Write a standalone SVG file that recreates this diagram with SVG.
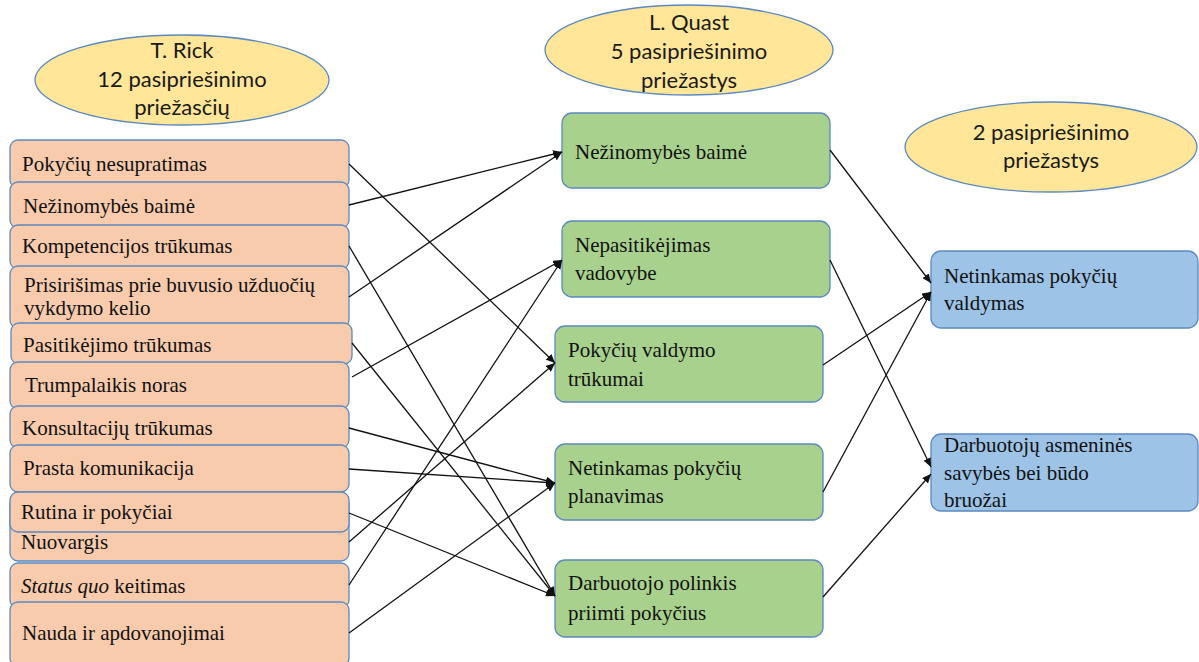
<svg xmlns="http://www.w3.org/2000/svg" width="1199" height="662" viewBox="0 0 1199 662">
<style>
.ell{fill:#FFE699;stroke:#5B89C0;stroke-width:1.3}
.et{font-family:Lato,"Liberation Sans",sans-serif;font-size:22px;fill:#1a1a1a;text-anchor:middle}
.lb{fill:#F8CBAD;stroke:#5B89C0;stroke-width:1.3}
.gb{fill:#A9D18E;stroke:#5B89C0;stroke-width:1.3}
.bb{fill:#9DC3E6;stroke:#5B89C0;stroke-width:1.3}
.t{font-family:"Liberation Serif","Times New Roman",serif;font-size:21px;fill:#111}
.c line{stroke:#111;stroke-width:1.3;marker-end:url(#ah)}
</style>
<defs>
<marker id="ah" markerUnits="userSpaceOnUse" markerWidth="10" markerHeight="8" refX="9" refY="4" orient="auto">
<path d="M0,0 L9,4 L0,8 Z" fill="#111"/>
</marker>
</defs>
<rect width="1199" height="662" fill="#fff"/>

<g id="e-rick"><ellipse class="ell" cx="182" cy="80" rx="147" ry="45"/>
<text class="et" x="182" y="58">T. Rick</text><text class="et" x="182" y="87">12 pasipriešinimo</text><text class="et" x="182" y="115">priežasčių</text></g>
<g id="e-quast"><ellipse class="ell" cx="689" cy="50" rx="144" ry="45"/>
<text class="et" x="689" y="30">L. Quast</text><text class="et" x="689" y="59">5 pasipriešinimo</text><text class="et" x="689" y="88">priežastys</text></g>
<g id="e-two"><ellipse class="ell" cx="1051" cy="147" rx="146" ry="45"/>
<text class="et" x="1051" y="140">2 pasipriešinimo</text><text class="et" x="1051" y="168">priežastys</text></g>

<g id="l1"><rect class="lb" x="10" y="140" width="339" height="48" rx="8"/><text class="t" x="22" y="171">Pokyčių nesupratimas</text></g>
<g id="l2"><rect class="lb" x="10" y="182" width="339" height="46" rx="8"/><text class="t" x="23" y="213">Nežinomybės baimė</text></g>
<g id="l3"><rect class="lb" x="10" y="225" width="339" height="44" rx="8"/><text class="t" x="22" y="253">Kompetencijos trūkumas</text></g>
<g id="l4"><rect class="lb" x="10" y="266" width="339" height="62" rx="8"/><text class="t" x="24" y="292">Prisirišimas prie buvusio užduočių</text><text class="t" x="24" y="315">vykdymo kelio</text></g>
<g id="l5"><rect class="lb" x="11" y="323" width="341" height="41" rx="8"/><text class="t" x="23" y="352">Pasitikėjimo trūkumas</text></g>
<g id="l6"><rect class="lb" x="10" y="362" width="339" height="47" rx="8"/><text class="t" x="25" y="392">Trumpalaikis noras</text></g>
<g id="l7"><rect class="lb" x="10" y="406" width="339" height="42" rx="8"/><text class="t" x="22" y="435">Konsultacijų trūkumas</text></g>
<g id="l8"><rect class="lb" x="10" y="445" width="339" height="47" rx="8"/><text class="t" x="23" y="475">Prasta komunikacija</text></g>
<g id="l10"><rect class="lb" x="10" y="496" width="339" height="65" rx="8"/><text class="t" x="21" y="549">Nuovargis</text></g>
<g id="l9"><rect class="lb" x="10" y="492" width="339" height="40" rx="8"/><text class="t" x="21" y="519">Rutina ir pokyčiai</text></g>
<g id="l11"><rect class="lb" x="10" y="563" width="339" height="45" rx="8"/><text class="t" x="21" y="593"><tspan font-style="italic">Status quo</tspan> keitimas</text></g>
<g id="l12"><rect class="lb" x="10" y="602" width="339" height="64" rx="8"/><text class="t" x="22" y="640">Nauda ir apdovanojimai</text></g>

<g id="g1"><rect class="gb" x="562" y="113" width="268" height="75" rx="10"/><text class="t" x="575" y="159">Nežinomybės baimė</text></g>
<g id="g2"><rect class="gb" x="562" y="221" width="268" height="76" rx="10"/><text class="t" x="575" y="252">Nepasitikėjimas</text><text class="t" x="575" y="280">vadovybe</text></g>
<g id="g3"><rect class="gb" x="555" y="326" width="268" height="76" rx="10"/><text class="t" x="568" y="357">Pokyčių valdymo</text><text class="t" x="568" y="386">trūkumai</text></g>
<g id="g4"><rect class="gb" x="555" y="444" width="268" height="76" rx="10"/><text class="t" x="568" y="475">Netinkamas pokyčių</text><text class="t" x="568" y="503">planavimas</text></g>
<g id="g5"><rect class="gb" x="555" y="560" width="268" height="77" rx="10"/><text class="t" x="568" y="590">Darbuotojo polinkis</text><text class="t" x="568" y="620">priimti pokyčius</text></g>

<g id="b1"><rect class="bb" x="931" y="251" width="267" height="77" rx="10"/><text class="t" x="944" y="283">Netinkamas pokyčių</text><text class="t" x="944" y="310">valdymas</text></g>
<g id="b2"><rect class="bb" x="931" y="434" width="267" height="77" rx="10"/><text class="t" x="944" y="452">Darbuotojų asmeninės</text><text class="t" x="944" y="480">savybės bei būdo</text><text class="t" x="944" y="507">bruožai</text></g>

<g id="connectors" class="c">
<line x1="349" y1="164" x2="555" y2="363"/>
<line x1="349" y1="205" x2="562" y2="152"/>
<line x1="349" y1="246" x2="555" y2="596"/>
<line x1="349" y1="297" x2="562" y2="152"/>
<line x1="352" y1="343" x2="555" y2="596"/>
<line x1="352" y1="377" x2="562" y2="260"/>
<line x1="349" y1="428" x2="555" y2="483"/>
<line x1="349" y1="469" x2="555" y2="483"/>
<line x1="349" y1="513" x2="555" y2="596"/>
<line x1="349" y1="542" x2="555" y2="363"/>
<line x1="349" y1="585" x2="562" y2="260"/>
<line x1="349" y1="633" x2="555" y2="483"/>
<line x1="830" y1="150" x2="931" y2="283"/>
<line x1="830" y1="260" x2="931" y2="467"/>
<line x1="823" y1="365" x2="931" y2="292"/>
<line x1="823" y1="492" x2="931" y2="292"/>
<line x1="823" y1="597" x2="931" y2="474"/>
</g>
</svg>
